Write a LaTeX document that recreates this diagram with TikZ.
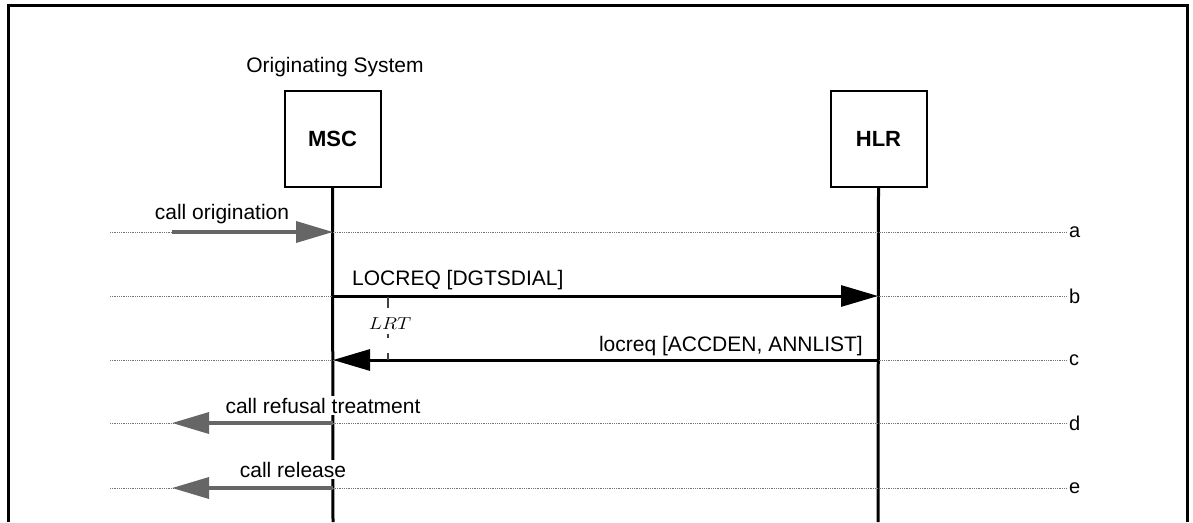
\documentclass[tikz,border=0pt]{standalone}
\usepackage{fontspec}
\setmainfont{Liberation Sans}
\usetikzlibrary{arrows.meta}
\begin{document}
\begin{tikzpicture}[x=1pt,y=-1pt,
  ent/.style={draw,line width=2pt,minimum width=96pt,minimum height=96pt,inner sep=0pt,
    font=\fontsize{22}{26}\selectfont\bfseries},
  life/.style={line width=3pt},
  guide/.style={draw=black!55,line width=1pt,dash pattern=on 1pt off 0.8pt},
  gmsg/.style={line width=3.5pt,draw=black!60,fill=black!60,-{Triangle[length=37pt,width=21pt]}},
  bmsg/.style={line width=3pt,-{Triangle[length=37pt,width=21pt]}},
  lbl/.style={font=\fontsize{21}{25}\selectfont,inner sep=0pt},
  cover/.style={fill=white,inner xsep=0pt,inner ysep=2pt},
  rowlbl/.style={font=\fontsize{20}{24}\selectfont,inner sep=0pt,anchor=west},
  timer/.style={line width=2pt,draw=black!75,dash pattern=on 11pt off 26pt on 4pt off 15pt on 10pt}]
\useasboundingbox (0,0) rectangle (1193,522);
\draw[line width=3pt] (8,522) -- (8,5) -- (1187,5) -- (1187,522);

% entities
\node[lbl] (sys) at (335,67) {Originating System};
\node[ent] (msc) at (332.5,138.5) {MSC};
\node[ent] (hlr) at (878.5,138.5) {HLR};
\coordinate (mscend) at (333,522);
\coordinate (hlrend) at (878,522);
\draw[life] (msc.south) -- (mscend);
\draw[life] (hlr.south) -- (hlrend);

% guide lines with row labels
\foreach \n/\y in {a/232,b/296,c/360,d/423,e/488}{
  \coordinate (g\n l) at (110,\y);
  \coordinate (g\n r) at (1067,\y);
  \draw[guide] (g\n l) -- (g\n r);
  \node[rowlbl] (r\n) at ([xshift=2pt]g\n r) {\n};
}

% points on lifelines
\coordinate (ma) at (333,232);
\coordinate (mb) at (333,296);
\coordinate (hb) at (878,296);
\coordinate (mc) at (333,360);
\coordinate (hc) at (878,360);
\coordinate (md) at (333,423);
\coordinate (me) at (333,488);
\coordinate (sa) at (172,232);
\coordinate (sd) at (172,423);
\coordinate (se) at (172,488);

% messages
\draw[gmsg] (sa) -- (ma);
\node[lbl,anchor=base] (la) at (222,219) {call origination};

\draw[bmsg] (mb) -- (hb);
\node[lbl,anchor=base west] (lb) at (352,285) {LOCREQ [DGTSDIAL]};

\draw[bmsg] (hc) -- (mc);
\node[lbl,anchor=base east] (lc) at (863,351) {locreq [ACCDEN, ANNLIST]};

\draw[gmsg] (md) -- (sd);
\node[lbl,cover,anchor=base] (ld) at (323,413) {call refusal treatment};

\draw[gmsg] (me) -- (se);
\node[lbl,cover,anchor=base] (le) at (293,477) {call release};

% timer
\coordinate (tt) at (388,297);
\coordinate (tb) at (388,360);
\draw[timer] (tt) -- (tb);
\node[inner sep=0pt,font=\fontsize{18}{20}\selectfont,xscale=1.15] (lrt) at (390,324) {$LRT$};
\end{tikzpicture}
\end{document}
